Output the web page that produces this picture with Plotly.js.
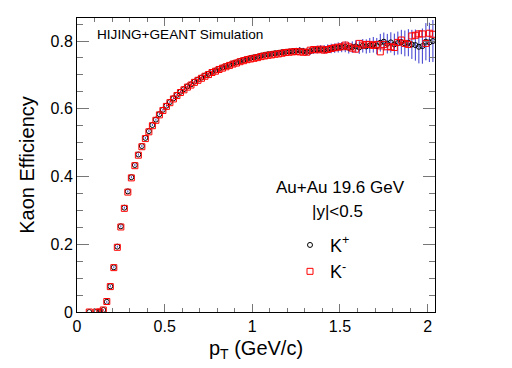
<!DOCTYPE html>
<html>
<head>
<meta charset="utf-8">
<script src="https://cdn.plot.ly/plotly-3.0.1.min.js"></script>
<style>html,body{margin:0;padding:0;background:#fff;}#chart{width:512px;height:368px;}</style>
</head>
<body>
<div id="chart"></div>
<script>
// pT bin centres (GeV/c)
const pT = [
  0.07,0.11,0.13,0.15,0.17,0.19,0.21,0.23,0.25,0.27,
  0.29,0.31,0.33,0.35,0.37,0.39,0.41,0.43,0.45,0.47,
  0.49,0.51,0.53,0.55,0.57,0.59,0.61,0.63,0.65,0.67,
  0.69,0.71,0.73,0.75,0.77,0.79,0.81,0.83,0.85,0.87,
  0.89,0.91,0.93,0.95,0.97,0.99,1.01,1.03,1.05,1.07,
  1.09,1.11,1.13,1.15,1.17,1.19,1.21,1.23,1.25,1.27,
  1.29,1.31,1.33,1.35,1.37,1.39,1.41,1.43,1.45,1.47,
  1.49,1.51,1.53,1.55,1.57,1.59,1.61,1.63,1.65,1.67,
  1.69,1.71,1.73,1.75,1.77,1.79,1.81,1.83,1.85,1.87,
  1.89,1.91,1.93,1.95,1.97,1.99,2.01,2.03
];
// K+ efficiency
const effKplus = [
  0,0,0.001,0.006,0.030,0.076,0.132,0.193,0.253,0.308,
  0.356,0.398,0.434,0.465,0.490,0.514,0.534,0.552,0.568,0.584,
  0.597,0.609,0.620,0.631,0.641,0.650,0.658,0.666,0.672,0.680,
  0.686,0.692,0.698,0.703,0.709,0.713,0.718,0.722,0.726,0.730,
  0.734,0.737,0.741,0.744,0.747,0.750,0.752,0.754,0.757,0.759,
  0.761,0.762,0.764,0.765,0.767,0.768,0.769,0.770,0.771,0.772,
  0.770,0.768,0.770,0.773,0.775,0.776,0.775,0.777,0.778,0.779,
  0.781,0.782,0.783,0.780,0.782,0.784,0.781,0.786,0.784,0.787,
  0.789,0.785,0.795,0.798,0.792,0.796,0.790,0.794,0.797,0.793,
  0.795,0.790,0.788,0.783,0.785,0.798,0.796,0.800
];
// K+ statistical errors
const errKplus = [
  0,0,0.001,0.002,0.003,0.003,0.003,0.003,0.003,0.003,
  0.003,0.003,0.003,0.003,0.003,0.003,0.003,0.003,0.003,0.003,
  0.003,0.003,0.003,0.003,0.003,0.003,0.003,0.003,0.003,0.003,
  0.003,0.003,0.003,0.003,0.004,0.004,0.004,0.004,0.004,0.004,
  0.004,0.004,0.005,0.005,0.005,0.005,0.005,0.006,0.006,0.006,
  0.006,0.007,0.007,0.007,0.008,0.008,0.008,0.009,0.009,0.010,
  0.010,0.010,0.011,0.011,0.012,0.012,0.013,0.013,0.014,0.014,
  0.015,0.015,0.016,0.017,0.017,0.018,0.019,0.020,0.021,0.022,
  0.023,0.024,0.026,0.027,0.029,0.030,0.032,0.034,0.036,0.038,
  0.040,0.043,0.046,0.049,0.052,0.055,0.058,0.062
];
// K- efficiency
const effKminus = [
  0,0,0,0.006,0.031,0.075,0.131,0.191,0.251,0.306,
  0.354,0.396,0.432,0.463,0.488,0.512,0.532,0.550,0.566,0.582,
  0.595,0.607,0.618,0.629,0.639,0.648,0.656,0.664,0.670,0.678,
  0.684,0.690,0.696,0.701,0.707,0.711,0.716,0.720,0.724,0.728,
  0.732,0.735,0.739,0.742,0.745,0.747,0.749,0.751,0.754,0.756,
  0.758,0.759,0.761,0.762,0.764,0.766,0.767,0.768,0.769,0.768,
  0.767,0.767,0.773,0.775,0.774,0.776,0.773,0.775,0.778,0.780,
  0.782,0.783,0.788,0.783,0.779,0.776,0.793,0.788,0.790,0.790,
  0.787,0.790,0.768,0.790,0.783,0.783,0.781,0.796,0.803,0.793,
  0.790,0.815,0.817,0.821,0.821,0.793,0.823,0.820
];
const xTickVals = [0, 0.5, 1, 1.5, 2];
const xTickText = ['0', '0.5', '1', '1.5', '2'];
const yTickVals = [0, 0.2, 0.4, 0.6, 0.8];
const yTickText = ['0', '0.2', '0.4', '0.6', '0.8'];

const FONT = 'Liberation Sans, Arial, Helvetica, sans-serif';

const traces = [
  {
    x: pT, y: effKplus, type: 'scatter', mode: 'markers', name: 'K<sup>+</sup>',
    marker: {symbol: 'circle-open', size: 5, color: '#000', line: {width: 1, color: '#000'}},
    error_y: {type: 'data', array: errKplus, visible: true, color: '#3a3ad0', thickness: 1, width: 0}
  },
  {
    x: pT, y: effKminus, type: 'scatter', mode: 'markers', name: 'K<sup>-</sup>',
    marker: {symbol: 'square-open', size: 6, color: '#ff0000', line: {width: 1, color: '#ff0000'}}
  }
];

const layout = {
  width: 512, height: 368,
  margin: {l: 77, r: 77, t: 18, b: 56, pad: 0},
  paper_bgcolor: '#fff', plot_bgcolor: '#fff',
  font: {family: FONT, color: '#000', size: 16},
  showlegend: true,
  legend: {x: 0.595, y: 0.29, xanchor: 'left', yanchor: 'top', bgcolor: 'rgba(0,0,0,0)',
           font: {family: FONT, size: 18}, tracegroupgap: 0, itemwidth: 30},
  xaxis: {
    range: [0, 2.042], showgrid: false, zeroline: false,
    showline: true, linecolor: '#000', linewidth: 1, mirror: 'allticks',
    ticks: 'inside', ticklen: 8, tickcolor: '#777', tickwidth: 1,
    tickvals: xTickVals, ticktext: xTickText, tickfont: {size: 16},
    minor: {ticks: 'inside', ticklen: 4, dtick: 0.1, tick0: 0, tickcolor: '#777', showgrid: false},
    title: {text: 'p<sub>T</sub> (GeV/c)', font: {size: 20}, standoff: 6}
  },
  yaxis: {
    range: [0, 0.868], showgrid: false, zeroline: false,
    showline: true, linecolor: '#000', linewidth: 1, mirror: 'allticks',
    ticks: 'inside', ticklen: 12, tickcolor: '#777', tickwidth: 1,
    tickvals: yTickVals, ticktext: yTickText, tickfont: {size: 16},
    minor: {ticks: 'inside', ticklen: 6, dtick: 0.05, tick0: 0, tickcolor: '#777', showgrid: false},
    title: {text: 'Kaon Efficiency', font: {size: 20}, standoff: 10}
  },
  annotations: [
    {text: 'HIJING+GEANT Simulation', xref: 'paper', yref: 'paper', x: 0.05, y: 0.943,
     xanchor: 'left', yanchor: 'middle', showarrow: false, font: {size: 13.6}},
    {text: 'Au+Au 19.6 GeV', xref: 'paper', yref: 'paper', x: 0.735, y: 0.422,
     xanchor: 'center', yanchor: 'middle', showarrow: false, font: {size: 17}},
    {text: '|y|<0.5', xref: 'paper', yref: 'paper', x: 0.729, y: 0.341,
     xanchor: 'center', yanchor: 'middle', showarrow: false, font: {size: 17}}
  ]
};

Plotly.newPlot('chart', traces, layout, {staticPlot: true, displayModeBar: false});
</script>
</body>
</html>
